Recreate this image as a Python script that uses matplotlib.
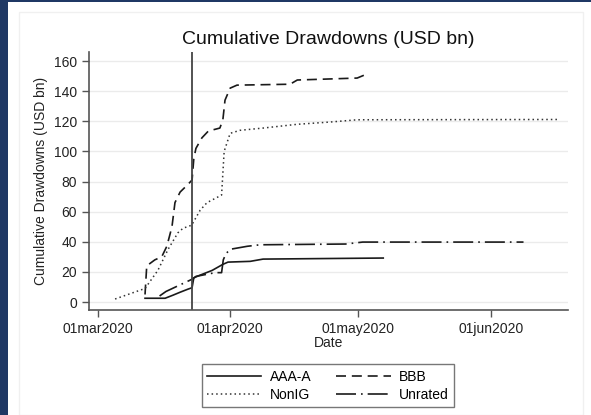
import numpy as np
import matplotlib
matplotlib.use('Agg')
import matplotlib.pyplot as plt
from matplotlib.patches import Rectangle

plt.rcParams['font.family'] = ['Liberation Sans', 'DejaVu Sans']

# days since 01mar2020, cumulative drawdowns in USD bn
aaa_days = [11.1, 15.8, 17.6, 19.3, 21.1, 22.1, 22.5, 23.5, 26.8, 29.3, 30.5, 35.7, 38.7, 66.8]
aaa_vals = [2.5, 2.5, 4.5, 6.5, 8.5, 9.5, 16, 17.3, 21, 25, 26.5, 27, 28.5, 29.2]

bbb_days = [11.1, 11.5, 13.4, 15.0, 16.2, 17.4, 18.1, 19.3, 21.1, 22.1, 22.5, 23.0, 24.4,
            25.9, 28.6, 29.3, 29.8, 31.0, 32.6, 45.0, 46.7, 60.7, 62.4]
bbb_vals = [5, 24, 28, 30, 37, 50, 66, 73, 78, 81, 95, 102, 109,
            113.5, 115.5, 121, 134, 142, 144, 144.6, 147.4, 148.7, 150.7]

nonig_days = [4.1, 11.1, 14.1, 16.5, 18.8, 20.0, 22.0, 24.0, 25.6, 29.0, 29.6, 31.0, 33.3,
              38.7, 46.7, 54.4, 60.7, 107.6]
nonig_vals = [2, 9, 21, 35, 46, 49, 51, 61, 66, 71, 100, 112, 114,
              115.5, 118, 119.5, 121, 121.2]

unrated_days = [14.5, 16.0, 19.0, 22.0, 23.0, 27.5, 29.0, 29.4, 30.0, 31.0, 35.0, 38.0, 58.0, 62.0, 99.6]
unrated_vals = [4, 7, 11, 15, 17, 19.5, 19.5, 28, 32, 35, 37, 38, 38.5, 39.8, 39.8]

event_day = 22  # 23mar2020

tick_days = [0, 31, 61, 92]
tick_labels = ['01mar2020', '01apr2020', '01may2020', '01jun2020']
y_ticks = [0, 20, 40, 60, 80, 100, 120, 140, 160]

fig = plt.figure(figsize=(5.91, 4.15), dpi=100)
fig.patches.append(Rectangle((0, 0), 8 / 591, 1, transform=fig.transFigure,
                             facecolor='#1f3864', edgecolor='none'))
fig.patches.append(Rectangle((0, 1 - 2 / 415), 1, 2 / 415, transform=fig.transFigure,
                             facecolor='#1f3864', edgecolor='none'))
fig.patches.append(Rectangle((19 / 591, 0), 564 / 591, 1 - 12 / 415, transform=fig.transFigure,
                             facecolor='none', edgecolor='#f0f0f0', lw=1))

ax = fig.add_axes([89 / 591, 1 - 310 / 415, 479 / 591, 258 / 415])

lc = '#1a1a1a'
l_aaa, = ax.plot(aaa_days, aaa_vals, color=lc, lw=1.2, ls='-', label='AAA-A')
l_bbb, = ax.plot(bbb_days, bbb_vals, color=lc, lw=1.2, ls=(0, (6, 3.5)), label='BBB')
l_nonig, = ax.plot(nonig_days, nonig_vals, color='#333333', lw=1.1, ls=(0, (1, 2)), label='NonIG')
l_unr, = ax.plot(unrated_days, unrated_vals, color=lc, lw=1.2, ls=(0, (12, 3, 1, 3)), label='Unrated')
ax.axvline(event_day, color='#444444', lw=1.3)

ax.set_xlim(-2, 110)
ax.set_ylim(-5.3, 166)
ax.set_xticks(tick_days)
ax.set_xticklabels(tick_labels)
ax.set_yticks(y_ticks)
ax.yaxis.grid(True, color='#ebebeb', lw=1)
ax.set_axisbelow(True)

for s in ['top', 'right']:
    ax.spines[s].set_visible(False)
for s in ['left', 'bottom']:
    ax.spines[s].set_color('#555555')
    ax.spines[s].set_linewidth(1.2)
ax.tick_params(axis='both', colors='#555555', length=5, width=1, labelsize=10,
               labelcolor='#222222')

ax.set_title('Cumulative Drawdowns (USD bn)', fontsize=14, color='#111111', pad=6)
ax.set_ylabel('Cumulative Drawdowns (USD bn)', fontsize=10, color='#222222', labelpad=4)
ax.set_xlabel('Date', fontsize=10, color='#222222', labelpad=0)

# column-wise fill: AAA-A / NonIG in first column, BBB / Unrated in second
fig.legend([l_aaa, l_nonig, l_bbb, l_unr], ['AAA-A', 'NonIG', 'BBB', 'Unrated'],
           loc='upper center', bbox_to_anchor=(328 / 591, 1 - 357 / 415), ncol=2,
           fontsize=10, frameon=True, fancybox=False, edgecolor='#555555',
           handlelength=3.9, columnspacing=1.8, handletextpad=0.6,
           borderpad=0.4, labelspacing=0.3)

fig.savefig('out.png', dpi=100, facecolor='white')
